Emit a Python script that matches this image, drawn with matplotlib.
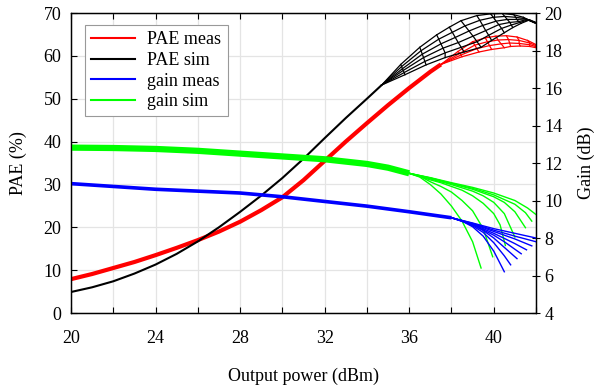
import numpy as np
import matplotlib.pyplot as plt
from matplotlib.lines import Line2D

plt.rcParams['font.family'] = ['Liberation Serif', 'DejaVu Serif']
plt.rcParams['font.size'] = 13

# ---- data ----
# shared part of the PAE curves (all curves of a family overlap here)
pae_meas_x = [20, 21, 22, 23, 24, 25, 26, 27, 28, 29, 30, 31, 32, 33, 34, 35, 36, 37, 37.5]
pae_meas_y = [7.9, 9.1, 10.5, 11.9, 13.5, 15.2, 17.0, 19.0, 21.3, 24.0, 27.0, 31.0, 35.5,
              40.0, 44.3, 48.5, 52.5, 56.3, 58.0]
pae_sim_x = [20, 21, 22, 23, 24, 25, 26, 27, 28, 29, 30, 31, 32, 33, 34, 34.7]
pae_sim_y = [4.9, 6.0, 7.4, 9.2, 11.3, 13.8, 16.7, 20.0, 23.6, 27.4, 31.5, 36.0, 40.8,
             45.5, 50.0, 53.2]

# high power part, one row per curve (rows x columns mesh)
pae_sim_mesh_x = [
    [35.60, 36.50, 37.30, 37.90, 38.45, 39.20, 39.85, 40.40, 40.95, 41.40, 41.90],
    [35.64, 36.56, 37.40, 38.04, 38.64, 39.34, 39.98, 40.52, 41.04, 41.46, 41.94],
    [35.68, 36.62, 37.50, 38.18, 38.83, 39.48, 40.11, 40.64, 41.09, 41.52, 41.98],
    [35.72, 36.68, 37.60, 38.32, 39.02, 39.62, 40.24, 40.76, 41.18, 41.58, 42.02],
    [35.76, 36.74, 37.70, 38.46, 39.21, 39.76, 40.37, 40.83, 41.24, 41.64, 42.06],
    [35.80, 36.80, 37.70, 38.60, 39.40, 39.90, 40.50, 40.90, 41.30, 41.70, 42.10],
]
pae_sim_mesh_y = [
    [58.0, 62.0, 64.9, 66.7, 68.2, 69.4, 69.8, 69.9, 69.6, 69.0, 67.8],
    [57.5, 61.2, 63.9, 65.5, 67.0, 68.3, 69.0, 69.2, 69.0, 68.7, 67.7],
    [57.0, 60.4, 62.8, 64.3, 65.8, 67.1, 68.1, 68.5, 68.5, 68.6, 67.7],
    [56.6, 59.6, 61.8, 63.1, 64.6, 65.9, 67.3, 67.8, 68.0, 68.5, 67.6],
    [56.1, 58.7, 60.7, 62.0, 63.3, 64.8, 66.4, 67.2, 67.8, 68.4, 67.6],
    [55.6, 57.9, 59.6, 60.9, 62.0, 63.6, 65.4, 66.6, 67.6, 68.4, 67.6],
]
pae_meas_mesh_x = [
    [38.30, 39.00, 39.60, 40.10, 40.60, 41.10, 41.60, 42.10],
    [38.40, 39.10, 39.70, 40.20, 40.70, 41.20, 41.70, 42.10],
    [38.45, 39.20, 39.80, 40.35, 40.75, 41.20, 41.70, 42.10],
    [38.50, 39.30, 39.90, 40.50, 40.80, 41.25, 41.70, 42.10],
]
pae_meas_mesh_y = [
    [61.0, 63.3, 64.2, 64.6, 64.7, 64.4, 63.6, 62.4],
    [60.6, 62.5, 63.3, 63.7, 63.8, 63.6, 63.0, 62.2],
    [60.2, 61.7, 62.4, 62.8, 63.0, 62.9, 62.6, 62.0],
    [59.8, 60.9, 61.5, 61.9, 62.2, 62.3, 62.2, 61.8],
]

# gain: shared part, then one tail per curve
gain_sim_x = [20, 22, 24, 26, 28, 30, 32, 34, 35, 36]
gain_sim_y = [12.82, 12.80, 12.75, 12.65, 12.50, 12.35, 12.20, 11.95, 11.75, 11.45]
gain_sim_tails_x = [
    [36.5, 37.0, 37.5, 38.0, 38.5, 39.0, 39.4],
    [36.5, 37.0, 37.5, 38.0, 38.5, 39.0, 39.5, 39.95],
    [37.0, 37.5, 38.0, 38.5, 39.0, 39.5, 40.0, 40.3, 40.55],
    [37.0, 38.0, 39.0, 39.5, 40.0, 40.5, 41.0],
    [37.0, 38.0, 39.0, 40.0, 40.5, 41.0, 41.5],
    [37.0, 38.0, 39.0, 40.0, 41.0, 41.5, 41.8],
    [37.0, 38.0, 39.0, 40.0, 41.0, 41.6, 42.0],
]
gain_sim_tails_y = [
    [11.25, 10.85, 10.35, 9.7, 8.9, 7.8, 6.4],
    [11.3, 11.0, 10.75, 10.45, 10.0, 9.45, 8.5, 7.0],
    [11.1, 10.95, 10.75, 10.55, 10.25, 9.85, 9.3, 8.7, 7.6],
    [11.15, 10.85, 10.5, 10.25, 9.9, 9.3, 8.05],
    [11.2, 10.9, 10.6, 10.2, 9.9, 9.4, 8.55],
    [11.2, 10.92, 10.65, 10.3, 9.8, 9.35, 8.9],
    [11.22, 10.95, 10.7, 10.4, 10.0, 9.6, 9.25],
]
gain_meas_x = [20, 22, 24, 26, 28, 30, 32, 34, 36, 38]
gain_meas_y = [10.9, 10.75, 10.6, 10.5, 10.4, 10.2, 9.95, 9.7, 9.4, 9.08]
gain_meas_tails_x = [
    [38.5, 39.0, 39.5, 40.0, 40.5],
    [38.5, 39.0, 39.5, 40.0, 40.5, 40.8],
    [39.0, 39.5, 40.0, 40.5, 40.8, 41.1],
    [39.0, 40.0, 40.5, 41.0, 41.3],
    [39.0, 40.0, 40.5, 41.0, 41.55],
    [39.0, 40.0, 41.0, 41.8],
    [39.0, 40.0, 41.0, 42.0],
    [39.0, 40.0, 41.0, 42.0],
]
gain_meas_tails_y = [
    [8.9, 8.6, 8.1, 7.3, 6.2],
    [8.92, 8.65, 8.3, 7.75, 7.05, 6.57],
    [8.7, 8.4, 8.0, 7.5, 7.2, 6.9],
    [8.72, 8.15, 7.8, 7.4, 7.16],
    [8.74, 8.25, 7.98, 7.7, 7.37],
    [8.76, 8.35, 7.95, 7.58],
    [8.78, 8.42, 8.1, 7.8],
    [8.8, 8.5, 8.25, 8.0],
]

x_ticks = [20, 22, 24, 26, 28, 30, 32, 34, 36, 38, 40, 42]
x_ticklabels = ['20', '', '24', '', '28', '', '32', '', '36', '', '40', '']
pae_ticks = [0, 10, 20, 30, 40, 50, 60, 70]
gain_ticks = [4, 6, 8, 10, 12, 14, 16, 18, 20]

RED, BLACK, BLUE, GREEN = '#ff0000', '#000000', '#0000ff', '#00ff00'

fig = plt.figure(figsize=(5.94, 3.86), dpi=100)
ax = fig.add_axes([0.1195, 0.1891, 0.7829, 0.7772])
ax2 = ax.twinx()

# PAE curves
def draw_mesh(axis, base_x, base_y, mx, my, color, base_lw):
    axis.plot(base_x, base_y, color=color, lw=base_lw, solid_capstyle='butt')
    for rx, ry in zip(mx, my):
        axis.plot([base_x[-1]] + rx, [base_y[-1]] + ry, color=color, lw=0.9)
    for k in range(len(mx[0])):
        axis.plot([r[k] for r in mx], [r[k] for r in my], color=color, lw=0.9)

draw_mesh(ax, pae_meas_x, pae_meas_y, pae_meas_mesh_x, pae_meas_mesh_y, RED, 3.0)
draw_mesh(ax, pae_sim_x, pae_sim_y, pae_sim_mesh_x, pae_sim_mesh_y, BLACK, 1.5)

# gain curves
def draw_fan(axis, base_x, base_y, tx, ty, color, base_lw):
    axis.plot(base_x, base_y, color=color, lw=base_lw, solid_capstyle='butt')
    for rx, ry in zip(tx, ty):
        axis.plot([base_x[-1]] + rx, [base_y[-1]] + ry, color=color, lw=1.0)

draw_fan(ax2, gain_sim_x, gain_sim_y, gain_sim_tails_x, gain_sim_tails_y, GREEN, 4.5)
draw_fan(ax2, gain_meas_x, gain_meas_y, gain_meas_tails_x, gain_meas_tails_y, BLUE, 2.6)

ax.set_xlim(20, 42)
ax.set_ylim(0, 70)
ax2.set_ylim(4, 20)
ax.set_xticks(x_ticks)
ax.set_xticklabels(x_ticklabels)
ax.set_yticks(pae_ticks)
ax2.set_yticks(gain_ticks)

ax.grid(True, color='#e4e4e4', lw=0.9)
ax.set_axisbelow(True)
ax.tick_params(axis='x', direction='in', top=True, length=4, width=0.8, pad=12)
ax.tick_params(axis='y', direction='in', length=4, width=0.8, pad=7)
ax2.tick_params(axis='y', direction='inout', length=6, width=0.8, pad=3)
for a in (ax, ax2):
    for s in a.spines.values():
        s.set_linewidth(0.9)

ax.set_xlabel('Output power (dBm)', labelpad=15)
ax.set_ylabel('PAE (%)', labelpad=12)
ax2.set_ylabel('Gain (dB)', labelpad=11)

handles = [Line2D([], [], color=RED, lw=1.5), Line2D([], [], color=BLACK, lw=1.5),
           Line2D([], [], color=BLUE, lw=1.5), Line2D([], [], color=GREEN, lw=1.5)]
leg = ax2.legend(handles, ['PAE meas', 'PAE sim', 'gain meas', 'gain sim'],
                 loc='upper left', bbox_to_anchor=(0.03, 0.96), borderaxespad=0,
                 fancybox=False, framealpha=1, edgecolor='#999999', handlelength=2.4,
                 borderpad=0.35, labelspacing=0.2, handletextpad=0.7)
leg.get_frame().set_linewidth(0.8)

fig.savefig('out.png', dpi=100)
